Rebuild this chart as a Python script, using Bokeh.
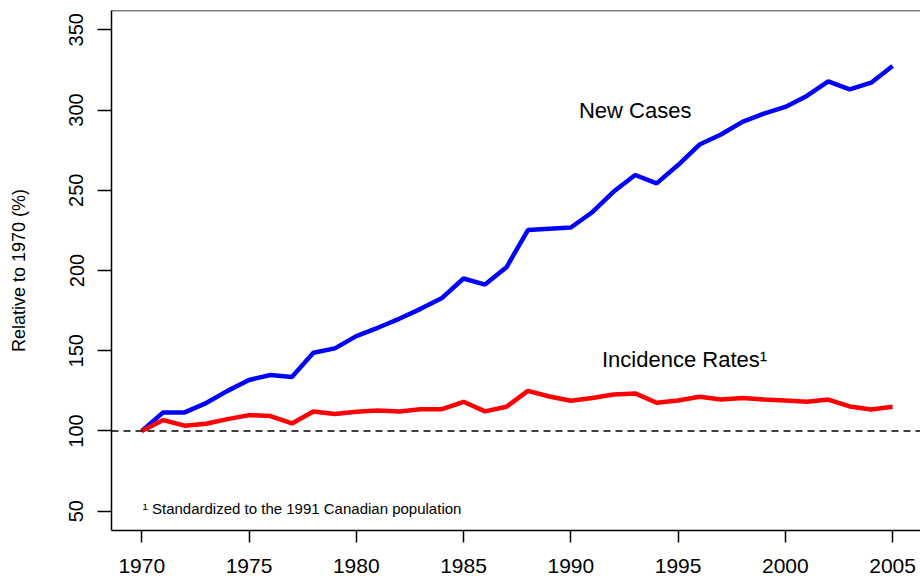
from bokeh.plotting import figure
from bokeh.models import FixedTicker, Span, Label, Range1d
from bokeh.embed import file_html
from bokeh.resources import INLINE

years = list(range(1970, 2006))
new_cases = [100, 111.6, 111.6, 117.4, 125.0, 131.8, 134.9, 133.7, 148.8, 151.5,
             159.1, 164.3, 169.9, 176.1, 182.9, 195.0, 191.2, 202.0, 225.2, 226.0,
             226.8, 236.3, 249.2, 259.5, 254.3, 265.7, 278.5, 284.7, 292.6, 297.8,
             301.9, 308.8, 317.9, 312.9, 317.0, 327.4]
incidence = [100, 106.8, 103.3, 104.5, 107.4, 109.9, 109.3, 104.7, 112.2, 110.6,
             112.0, 112.8, 112.2, 113.6, 113.6, 118.2, 112.2, 115.1, 125.0, 121.5,
             118.8, 120.5, 122.7, 123.4, 117.6, 119.0, 121.3, 119.6, 120.5, 119.6,
             119.0, 118.2, 119.6, 115.3, 113.4, 115.1]
x_ticks = [1970, 1975, 1980, 1985, 1990, 1995, 2000, 2005]
y_ticks = [50, 100, 150, 200, 250, 300, 350]
baseline = 100

FONT = "Liberation Sans"

p = figure(width=920, height=577, output_backend="svg", toolbar_location=None,
           x_range=Range1d(1968.59, 2006.30), y_range=Range1d(38, 362),
           min_border_left=111, min_border_right=0, min_border_top=10,
           min_border_bottom=47, background_fill_color="white",
           border_fill_color="white")
p.outline_line_color = None
p.grid.visible = False

for ax in (p.xaxis, p.yaxis):
    ax.axis_line_color = "black"
    ax.axis_line_width = 1.5
    ax.major_tick_line_color = "black"
    ax.major_tick_line_width = 1.5
    ax.minor_tick_line_color = None
    ax.major_tick_in = 0
    ax.major_label_text_font = FONT
    ax.major_label_text_color = "black"

p.xaxis.ticker = FixedTicker(ticks=x_ticks)
p.xaxis.major_tick_out = 12
p.xaxis.major_label_text_font_size = "21px"
p.xaxis.major_label_standoff = 16

p.yaxis.ticker = FixedTicker(ticks=y_ticks)
p.yaxis.major_tick_out = 14
p.yaxis.major_label_text_font_size = "20px"
p.yaxis.major_label_orientation = "vertical"
p.yaxis.major_label_standoff = 14
p.yaxis.axis_label = "Relative to 1970 (%)"
p.yaxis.axis_label_text_font = FONT
p.yaxis.axis_label_text_font_size = "18px"
p.yaxis.axis_label_text_font_style = "normal"
p.yaxis.axis_label_text_color = "black"
p.yaxis.axis_label_standoff = 38

top_line = Span(location=362, dimension="width", line_color="black", line_width=1.5)
ref_line = Span(location=baseline, dimension="width", line_color="black",
                line_width=1.5, line_dash="7 5")
p.add_layout(top_line)
p.add_layout(ref_line)

p.line(years, new_cases, line_color="#0000FF", line_width=4.5)
p.line(years, incidence, line_color="#FF0000", line_width=4.5)

p.add_layout(Label(x=1993, y=300, text="New Cases", text_font=FONT,
                   text_font_size="22px", text_align="center",
                   text_baseline="middle", text_color="black"))
p.add_layout(Label(x=1995.3, y=144.5, text="Incidence Rates\u00b9", text_font=FONT,
                   text_font_size="22px", text_align="center",
                   text_baseline="middle", text_color="black"))
p.add_layout(Label(x=1970.05, y=51.8,
                   text="\u00b9 Standardized to the 1991 Canadian population",
                   text_font=FONT, text_font_size="15px", text_align="left",
                   text_baseline="middle", text_color="black"))

open("out.html", "w").write(file_html(p, INLINE))
